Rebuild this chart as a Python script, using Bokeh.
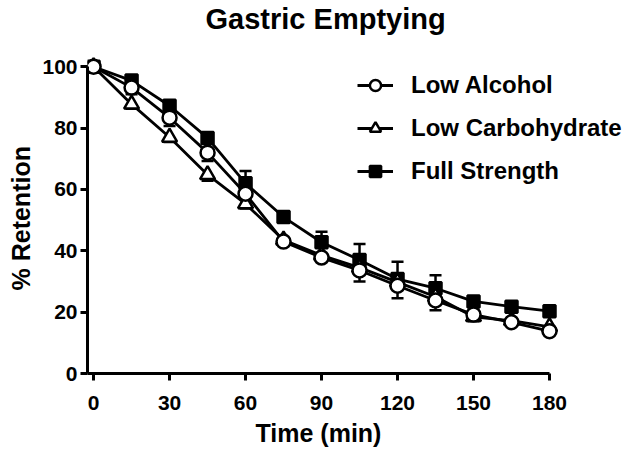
from bokeh.plotting import figure
from bokeh.models import Range1d, Legend, LegendItem, FixedTicker, Title, Label
from bokeh.embed import file_html
from bokeh.resources import INLINE

# ---- data ----
time_min = [0, 15, 30, 45, 60, 75, 90, 105, 120, 135, 150, 165, 180]
low_alcohol = [100, 93.2, 83.4, 72.0, 58.6, 43.0, 37.8, 33.6, 28.6, 23.8, 19.2, 16.7, 13.8]
low_alcohol_err = [0, 2.2, 2.7, 2.7, 1.5, 1.0, 1.0, 3.6, 4.1, 3.2, 1.5, 1.0, 1.0]
low_carb = [100, 87.8, 77.0, 64.8, 55.3, 43.5, 38.5, 34.5, 29.8, 25.0, 18.5, 17.2, 15.2]
low_carb_err = [0, 1.5, 1.5, 2.0, 1.5, 1.0, 1.0, 2.0, 2.0, 2.0, 1.5, 1.0, 1.0]
full_strength = [100, 95.5, 87.3, 76.8, 62.0, 51.0, 42.8, 37.0, 30.8, 27.8, 23.5, 21.8, 20.3]
full_strength_err = [0, 1.0, 1.0, 1.5, 4.0, 1.0, 3.4, 5.2, 5.6, 4.2, 1.0, 1.0, 1.0]
x_ticks = [0, 30, 60, 90, 120, 150, 180]
y_ticks = [0, 20, 40, 60, 80, 100]

FONT = "Liberation Sans"

p = figure(width=618, height=455, output_backend="svg", toolbar_location=None,
           x_range=Range1d(-2.4, 210.4), y_range=Range1d(0, 121.6),
           min_border_left=79, min_border_right=0, min_border_top=0,
           min_border_bottom=82)
p.frame_width = 539
p.frame_height = 373
p.outline_line_color = None
p.grid.visible = False
p.background_fill_color = "white"
p.border_fill_color = "white"

# title drawn inside the (tall) frame, above the plotted area
p.add_layout(Label(x=91.6, y=115.7, text="Gastric Emptying", text_align="center",
                   text_baseline="middle", text_font=FONT, text_font_size="29px",
                   text_font_style="bold", text_color="black"))

for ax, ticks in ((p.xaxis[0], x_ticks), (p.yaxis[0], y_ticks)):
    ax.ticker = FixedTicker(ticks=ticks)
    ax.major_label_text_font = FONT
    ax.major_label_text_font_size = "21px"
    ax.major_label_text_font_style = "bold"
    ax.major_label_text_color = "black"
    ax.axis_line_width = 3
    ax.axis_line_color = "black"
    ax.major_tick_line_width = 3
    ax.major_tick_line_color = "black"
    ax.major_tick_in = 0
    ax.major_tick_out = 7
    ax.minor_tick_line_color = None

p.xaxis.bounds = (-2.4, 180)
p.yaxis.bounds = (0, 100)
p.xaxis.major_label_standoff = 15
p.yaxis.major_label_standoff = 3

y_title = Title(text="% Retention", align="left", offset=83, standoff=9,
                text_font=FONT, text_font_size="25px", text_font_style="bold",
                text_color="black")
p.add_layout(y_title, "left")

x_title = Title(text="Time (min)", align="left", offset=168, standoff=12,
                vertical_align="top",
                text_font=FONT, text_font_size="25px", text_font_style="bold",
                text_color="black")
p.add_layout(x_title, "below")


def series(y, err, direction, marker, fill, size):
    ends = [v + direction * e for v, e in zip(y, err)]
    p.segment(x0=time_min, y0=y, x1=time_min, y1=ends, line_color="black", line_width=2.5)
    p.scatter(x=time_min, y=ends, marker="dash", size=12, line_color="black", line_width=2.5)
    ln = p.line(time_min, y, line_color="black", line_width=2.8)
    mk = p.scatter(time_min, y, marker=marker, size=size, fill_color=fill,
                   line_color="black", line_width=2.5)
    return ln, mk


fs_ln, fs_mk = series(full_strength, full_strength_err, 1, "square", "black", 12)
lc_ln, lc_mk = series(low_carb, low_carb_err, -1, "triangle", "white", 15)
la_ln, la_mk = series(low_alcohol, low_alcohol_err, -1, "circle", "white", 14)

legend = Legend(items=[
    LegendItem(label="Low Alcohol", renderers=[la_ln, la_mk]),
    LegendItem(label="Low Carbohydrate", renderers=[lc_ln, lc_mk]),
    LegendItem(label="Full Strength", renderers=[fs_ln, fs_mk]),
], location=(270, 188))
legend.label_text_font = FONT
legend.label_text_font_size = "24px"
legend.label_text_font_style = "bold"
legend.label_text_color = "black"
legend.glyph_width = 36
legend.glyph_height = 28
legend.label_height = 28
legend.spacing = 15
legend.padding = 0
legend.margin = 0
legend.label_standoff = 18
legend.border_line_color = None
legend.background_fill_alpha = 0
p.add_layout(legend, "center")

open("out.html", "w").write(file_html(p, INLINE))
